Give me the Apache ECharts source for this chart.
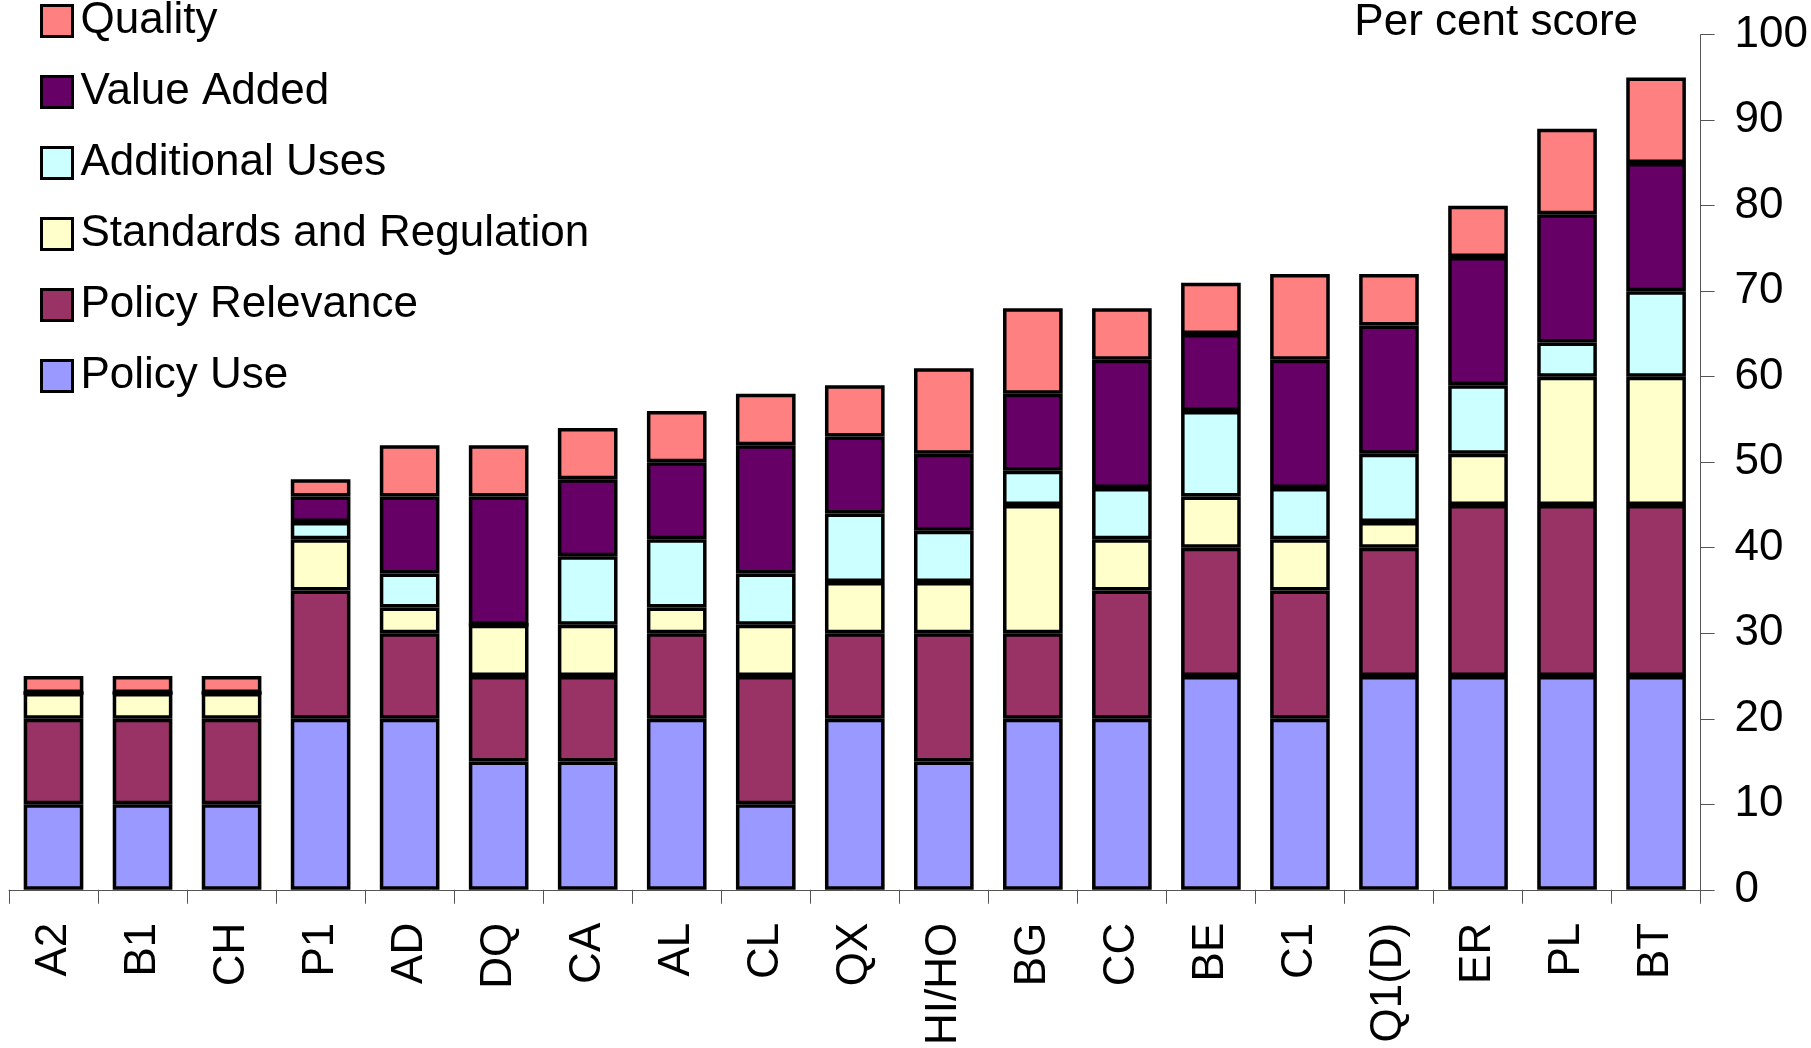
<!DOCTYPE html>
<html>
<head>
<meta charset="utf-8">
<script src="https://cdn.jsdelivr.net/npm/echarts@6/dist/echarts.min.js"></script>
<style>
  html, body { margin: 0; padding: 0; background: #fff; }
  #chart { width: 1811px; height: 1048px; }
</style>
</head>
<body>
<div id="chart"></div>
<script>
// Categories along the x axis
const categories = ['A2','B1','CH','P1','AD','DQ','CA','AL','CL','QX','HI/HO','BG','CC','BE','C1','Q1(D)','ER','PL','BT'];

// Component scores (stacked bottom to top)
const policyUse       = [10,10,10,20,20,15,15,20,10,20,15,20,20,25,20,25,25,25,25];
const policyRelevance = [10,10,10,15,10,10,10,10,15,10,15,10,15,15,15,15,20,20,20];
const standardsReg    = [ 3, 3, 3, 6, 3, 6, 6, 3, 6, 6, 6,15, 6, 6, 6, 3, 6,15,15];
const additionalUses  = [ 0, 0, 0, 2, 4, 0, 8, 8, 6, 8, 6, 4, 6,10, 6, 8, 8, 4,10];
const valueAdded      = [ 0, 0, 0, 3, 9,15, 9, 9,15, 9, 9, 9,15, 9,15,15,15,15,15];
const quality         = [ 2, 2, 2, 2, 6, 6, 6, 6, 6, 6,10,10, 6, 6,10, 6, 6,10,10];

const yTicks = { min: 0, max: 100, interval: 10 };

const seriesDefs = [
  { name: 'Policy Use',               data: policyUse,       color: '#9999FF' },
  { name: 'Policy Relevance',         data: policyRelevance, color: '#993366' },
  { name: 'Standards and Regulation', data: standardsReg,    color: '#FFFFCC' },
  { name: 'Additional Uses',          data: additionalUses,  color: '#CCFFFF' },
  { name: 'Value Added',              data: valueAdded,      color: '#660066' },
  { name: 'Quality',                  data: quality,         color: '#FF8080' }
];

const FONT = '"Liberation Sans", Arial, sans-serif';

const chart = echarts.init(document.getElementById('chart'), null, { renderer: 'canvas' });

chart.setOption({
  animation: false,
  backgroundColor: '#ffffff',
  textStyle: { fontFamily: FONT, color: '#000' },
  grid: { left: 9, right: 109, top: 34.7, bottom: 157.3, containLabel: false },
  legend: {
    orient: 'vertical',
    left: 40,
    top: -1,
    padding: 0,
    itemWidth: 31,
    itemHeight: 31,
    itemGap: 27,
    icon: 'rect',
    selectedMode: false,
    data: seriesDefs.map(s => s.name).reverse(),
    itemStyle: { borderColor: '#000', borderWidth: 3 },
    textStyle: { fontFamily: FONT, fontSize: 44, lineHeight: 44, color: '#000', padding: [0, 0, 0, 3] }
  },
  xAxis: {
    type: 'category',
    data: categories,
    boundaryGap: true,
    axisLine: { show: true, lineStyle: { color: '#555', width: 1 } },
    axisTick: { show: true, length: 14, alignWithLabel: false, lineStyle: { color: '#555', width: 1 } },
    axisLabel: { rotate: 90, fontFamily: FONT, fontSize: 44, color: '#000', margin: 33, interval: 0 },
    splitLine: { show: false }
  },
  yAxis: {
    type: 'value',
    position: 'right',
    min: yTicks.min,
    max: yTicks.max,
    interval: yTicks.interval,
    axisLine: { show: true, lineStyle: { color: '#555', width: 1 } },
    axisTick: { show: true, inside: false, length: 14, lineStyle: { color: '#555', width: 1 } },
    axisLabel: { fontFamily: FONT, fontSize: 44, color: '#000', margin: 34 },
    splitLine: { show: false }
  },
  graphic: [{
    type: 'text',
    x: 1638,
    y: 23,
    style: {
      text: 'Per cent score',
      fontFamily: FONT,
      fontSize: 44,
      fill: '#000',
      textAlign: 'right',
      textVerticalAlign: 'middle'
    }
  }],
  series: seriesDefs.map(s => ({
    name: s.name,
    type: 'bar',
    stack: 'score',
    data: s.data,
    barCategoryGap: '33%',
    itemStyle: { color: s.color, borderColor: '#000', borderWidth: 3.5 },
    emphasis: { disabled: true }
  }))
});
</script>
</body>
</html>
